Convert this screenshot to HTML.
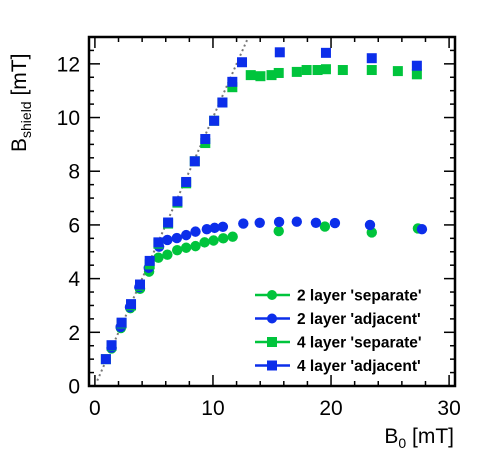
<!DOCTYPE html>
<html><head><meta charset="utf-8"><style>
html,body{margin:0;padding:0;background:#fff;}
svg{display:block;font-family:"Liberation Sans",Arial,sans-serif;}
</style></head><body>
<svg id="chart" width="496" height="473" viewBox="0 0 496 473"></svg>
<script>
const xTicks=[0,10,20,30];
const yTicks=[0,2,4,6,8,10,12];
const s2x=[1.41,2.2,3.0,3.82,4.59,5.38,6.14,6.97,7.73,8.52,9.29,10.05,10.87,11.67,15.57,19.48,23.45,27.36];
const s2y=[1.4,2.16,2.9,3.62,4.26,4.78,4.89,5.06,5.15,5.21,5.35,5.42,5.5,5.56,5.77,5.94,5.72,5.87];
const a2x=[1.41,2.18,2.97,3.76,4.56,5.44,6.14,6.94,7.73,8.52,9.48,10.14,10.84,12.57,13.96,15.6,17.1,18.72,20.33,23.3,27.7];
const a2y=[1.43,2.2,2.94,3.68,4.4,5.19,5.44,5.51,5.62,5.75,5.84,5.89,5.93,6.05,6.08,6.11,6.12,6.08,6.07,6.0,5.84];
const s4x=[0.93,1.41,2.26,3.06,3.82,4.64,5.38,6.2,6.99,7.73,8.46,9.35,10.1,10.8,11.64,13.2,14.02,14.96,15.57,17.1,17.93,18.86,19.57,21.0,23.45,25.66,27.27];
const s4y=[1.0,1.5,2.33,3.0,3.73,4.53,5.3,6.05,6.83,7.55,8.37,9.05,9.88,10.56,11.13,11.58,11.54,11.58,11.66,11.7,11.77,11.77,11.8,11.77,11.77,11.73,11.61];
const a4x=[0.93,1.41,2.26,3.06,3.82,4.64,5.38,6.2,6.99,7.73,8.46,9.35,10.1,10.8,11.64,12.46,15.66,19.57,23.45,27.27];
const a4y=[1.0,1.52,2.36,3.05,3.78,4.66,5.35,6.09,6.88,7.6,8.37,9.2,9.88,10.56,11.33,12.06,12.43,12.41,12.21,11.93];
const green="#00c43c", blue="#0c2eea";
const L=89,R=455,T=37,B=386, X0=-0.5,X1=30.5,Y0=0,Y1=13;
const sx=v=>L+(v-X0)/(X1-X0)*(R-L);
const sy=v=>B-(v-Y0)/(Y1-Y0)*(B-T);
const svg=document.getElementById('chart');
const NS="http://www.w3.org/2000/svg";
function mk(tag,attrs,parent){const e=document.createElementNS(NS,tag);for(const k in attrs)e.setAttribute(k,attrs[k]);(parent||svg).appendChild(e);return e;}
const diag=mk('line',{x1:sx(0.2),y1:sy(0.2),x2:sx(13),y2:sy(13),stroke:'#777','stroke-width':2,'stroke-dasharray':'2,3'});


const tg=mk('g',{stroke:'#000','stroke-width':1.5});


for(let v=0;v<=30;v+=2){const maj=v%10===0;const len=maj?11:5;const x=sx(v);
 mk('line',{x1:x,y1:B,x2:x,y2:B-len},tg);mk('line',{x1:x,y1:T,x2:x,y2:T+len},tg);}
for(let v=0;v<=13;v+=0.5){const maj=v%2===0;const len=maj?11:5;const y=sy(v);
 mk('line',{x1:L,y1:y,x2:L+len,y2:y},tg);mk('line',{x1:R,y1:y,x2:R-len,y2:y},tg);}
const fr=mk('rect',{x:L,y:T,width:R-L,height:B-T,fill:'none',stroke:'#000','stroke-width':2.5});


xTicks.forEach(v=>{const t=mk('text',{x:sx(v),y:415,'text-anchor':'middle','font-size':21});t.textContent=v;
 
 });
yTicks.forEach(v=>{const t=mk('text',{x:80,y:sy(v)+7.5,'text-anchor':'end','font-size':21});t.textContent=v;
 
 });
function circles(xs,ys,c,name){const g=mk('g',{fill:c});
 
 
 xs.forEach((x,i)=>{const p=mk('circle',{cx:sx(x),cy:sy(ys[i]),r:5.2},g);
 
 });}
function squares(xs,ys,c,name){const g=mk('g',{fill:c});
 
 
 xs.forEach((x,i)=>{const p=mk('rect',{x:sx(x)-5,y:sy(ys[i])-5,width:10,height:10},g);
 
 });}
circles(s2x,s2y,green,'series-2-layer-separate');
circles(a2x,a2y,blue,'series-2-layer-adjacent');
squares(s4x,s4y,green,'series-4-layer-separate');
squares(a4x,a4y,blue,'series-4-layer-adjacent');
const lg=mk('g',{});


const leg=[["2 layer 'separate'",green,'c'],["2 layer 'adjacent'",blue,'c'],["4 layer 'separate'",green,'s'],["4 layer 'adjacent'",blue,'s']];
leg.forEach((d,i)=>{const y=295+i*23.5;
 const e=mk('g',{},lg);
 
 
 mk('line',{x1:255,y1:y,x2:290,y2:y,stroke:d[1],'stroke-width':2.5},e);
 if(d[2]==='c')mk('circle',{cx:272,cy:y,r:5,fill:d[1]},e);else mk('rect',{x:267,y:y-5,width:10,height:10,fill:d[1]},e);
 const t=mk('text',{x:297,y:y+5.5,'font-size':15.5,'font-weight':'bold'},e);t.textContent=d[0];});
</script>
<svg style="position:absolute;left:0;top:0" width="496" height="473">
<text x="454" y="443" text-anchor="end" font-size="21" font-family="Liberation Sans, sans-serif">B<tspan font-size="14" dy="5">0</tspan><tspan dy="-5"> [mT]</tspan></text>
<text transform="translate(26,152) rotate(-90)" font-size="21" font-family="Liberation Sans, sans-serif">B<tspan font-size="14" dy="5">shield</tspan><tspan dy="-5"> [mT]</tspan></text>
</svg>
</body></html>
